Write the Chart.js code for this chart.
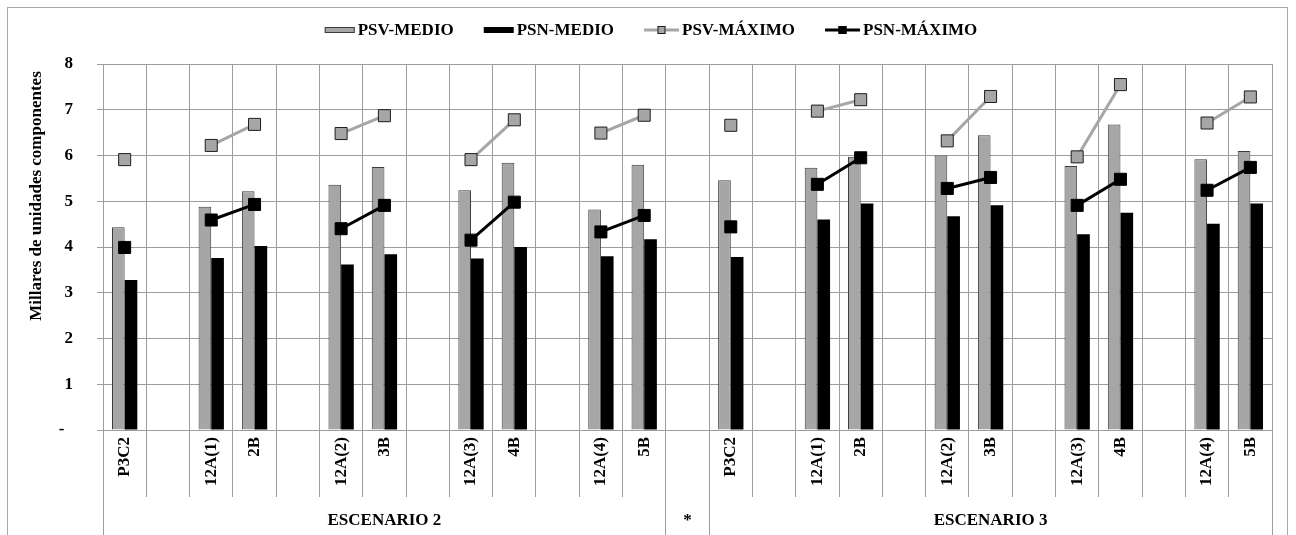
<!DOCTYPE html>
<html>
<head>
<meta charset="utf-8">
<script src="https://cdn.jsdelivr.net/npm/chart.js@4/dist/chart.umd.min.js"></script>
<style>
  html, body { margin: 0; padding: 0; background: #fff; }
  canvas { display: block; }
</style>
</head>
<body>
<canvas id="chart" width="1296" height="535"></canvas>
<script>
// Configurations, grouped by scenario (blank slots separate the pairs)
const categories = [
  'P3C2', '', '12A(1)', '2B', '', '12A(2)', '3B', '', '12A(3)', '4B', '', '12A(4)', '5B',
  '',
  'P3C2', '', '12A(1)', '2B', '', '12A(2)', '3B', '', '12A(3)', '4B', '', '12A(4)', '5B'
];

// Thousands of component units
const psvMedio = [4.43, null, 4.88, 5.22, null, 5.36, 5.75, null, 5.24, 5.84, null, 4.82, 5.80,
  null,
  5.46, null, 5.73, 5.97, null, 6.00, 6.44, null, 5.77, 6.68, null, 5.92, 6.10];
const psnMedio = [3.28, null, 3.76, 4.02, null, 3.62, 3.84, null, 3.75, 4.00, null, 3.80, 4.17,
  null,
  3.78, null, 4.60, 4.95, null, 4.67, 4.91, null, 4.28, 4.75, null, 4.51, 4.95];
const psvMaximo = [5.91, null, 6.22, 6.68, null, 6.48, 6.87, null, 5.91, 6.78, null, 6.49, 6.88,
  null,
  6.66, null, 6.97, 7.22, null, 6.32, 7.29, null, 5.97, 7.55, null, 6.71, 7.28];
const psnMaximo = [3.99, null, 4.59, 4.93, null, 4.40, 4.91, null, 4.15, 4.98, null, 4.33, 4.69,
  null,
  4.44, null, 5.37, 5.95, null, 5.28, 5.52, null, 4.91, 5.48, null, 5.24, 5.74];

// Second category level
const groupLabels = ['ESCENARIO 2', '*', 'ESCENARIO 3'];
const groupSizes = [13, 1, 13];

const yTickLabels = ['-', '1', '2', '3', '4', '5', '6', '7', '8'];
const yTitle = 'Millares de unidades componentes';

const FONT = '"Liberation Serif", "Times New Roman", serif';
const GRID = '#9c9c9c';
const GREY = '#a6a6a6';

function alignPx(p) { return Math.round(p - 0.5) + 0.5; }

// White page with the light outer frame
const framePlugin = {
  id: 'frame',
  beforeDraw(chart) {
    const ctx = chart.ctx;
    ctx.save();
    ctx.fillStyle = '#fff';
    ctx.fillRect(0, 0, chart.width, chart.height);
    ctx.strokeStyle = '#a8a8a8';
    ctx.lineWidth = 1;
    ctx.strokeRect(7.5, 7.5, chart.width - 16, chart.height + 20);
    ctx.restore();
  }
};

// Scenario row under the configuration labels
const groupRowPlugin = {
  id: 'groupRow',
  afterDraw(chart) {
    const xs = chart.scales.x;
    const ctx = chart.ctx;
    const step = xs.width / categories.length;
    const rowTop = xs.top + xs.options.grid.tickLength;
    ctx.save();
    ctx.strokeStyle = GRID;
    ctx.lineWidth = 1;
    ctx.fillStyle = '#000';
    ctx.font = 'bold 17px ' + FONT;
    ctx.textAlign = 'center';
    ctx.textBaseline = 'middle';
    const edges = [xs.getPixelForValue(0) - step / 2];
    let start = 0;
    groupSizes.forEach((n, g) => {
      const left = xs.getPixelForValue(start) - step / 2;
      const right = xs.getPixelForValue(start + n - 1) + step / 2;
      ctx.fillText(groupLabels[g], (left + right) / 2, rowTop + 24);
      edges.push(right);
      start += n;
    });
    edges.forEach(px => {
      const p = alignPx(px);
      ctx.beginPath();
      ctx.moveTo(p, rowTop - 1);
      ctx.lineTo(p, chart.height);
      ctx.stroke();
    });
    ctx.restore();
  }
};

// Vertical value-axis title
const yTitlePlugin = {
  id: 'yTitle',
  afterDraw(chart) {
    const ctx = chart.ctx;
    ctx.save();
    ctx.translate(37, 196);
    ctx.rotate(-Math.PI / 2);
    ctx.fillStyle = '#000';
    ctx.font = 'bold 17px ' + FONT;
    ctx.textAlign = 'center';
    ctx.textBaseline = 'middle';
    ctx.fillText(yTitle, 0, 0);
    ctx.restore();
  }
};

// Legend row: bar swatches and line-with-marker swatches
const legendPlugin = {
  id: 'legendRow',
  afterDraw(chart) {
    const ctx = chart.ctx;
    const sets = chart.data.datasets;
    ctx.save();
    ctx.font = 'bold 17px ' + FONT;
    const symW = sets.map(d => d.type === 'line' ? 35 : 30);
    const txtW = sets.map(d => ctx.measureText(d.label).width);
    const gapSym = 3, gapItem = 30;
    let total = 0;
    sets.forEach((d, i) => { total += symW[i] + gapSym + txtW[i]; });
    total += gapItem * (sets.length - 1);
    let x = 651 - total / 2;
    const y = 30;
    sets.forEach((d, i) => {
      if (d.type === 'line') {
        ctx.strokeStyle = d.borderColor;
        ctx.lineWidth = 3;
        ctx.beginPath();
        ctx.moveTo(x, y);
        ctx.lineTo(x + symW[i], y);
        ctx.stroke();
        const cx = x + symW[i] / 2;
        ctx.fillStyle = d.pointBackgroundColor;
        ctx.fillRect(cx - 4, y - 4, 8, 8);
        ctx.strokeStyle = d.pointBorderColor;
        ctx.lineWidth = 1;
        ctx.strokeRect(cx - 4 + 0.5, y - 4 + 0.5, 7, 7);
      } else {
        ctx.fillStyle = d.backgroundColor;
        ctx.fillRect(x, y - 3, symW[i], 6);
        if (d.borderWidth) {
          ctx.strokeStyle = d.borderColor;
          ctx.lineWidth = 1;
          ctx.strokeRect(x + 0.5, y - 3 + 0.5, symW[i] - 1, 5);
        }
      }
      x += symW[i] + gapSym;
      ctx.fillStyle = '#000';
      ctx.textAlign = 'left';
      ctx.textBaseline = 'middle';
      ctx.fillText(d.label, x, y + 1);
      x += txtW[i] + gapItem;
    });
    ctx.restore();
  }
};

new Chart(document.getElementById('chart'), {
  data: {
    labels: categories,
    datasets: [
      {
        type: 'bar', label: 'PSV-MEDIO', data: psvMedio,
        backgroundColor: GREY, borderColor: '#3c3c3c', borderWidth: 1,
        categoryPercentage: 0.585, barPercentage: 1.0, order: 2
      },
      {
        type: 'bar', label: 'PSN-MEDIO', data: psnMedio,
        backgroundColor: '#000', borderColor: '#000', borderWidth: 0,
        categoryPercentage: 0.585, barPercentage: 1.0, order: 2
      },
      {
        type: 'line', label: 'PSV-MÁXIMO', data: psvMaximo,
        borderColor: GREY, borderWidth: 3,
        pointStyle: 'rect', pointRadius: 8.5,
        pointBackgroundColor: GREY, pointBorderColor: '#1e1e1e', pointBorderWidth: 1,
        spanGaps: false, fill: false, order: 1
      },
      {
        type: 'line', label: 'PSN-MÁXIMO', data: psnMaximo,
        borderColor: '#000', borderWidth: 3,
        pointStyle: 'rect', pointRadius: 8.5,
        pointBackgroundColor: '#000', pointBorderColor: '#000', pointBorderWidth: 1,
        spanGaps: false, fill: false, order: 1
      }
    ]
  },
  options: {
    responsive: false,
    animation: false,
    devicePixelRatio: 1,
    events: [],
    layout: { padding: { top: 64, right: 24, bottom: 0, left: 0 } },
    plugins: {
      legend: { display: false },
      tooltip: { enabled: false },
      title: { display: false }
    },
    scales: {
      x: {
        type: 'category',
        offset: true,
        grid: {
          offset: true, color: GRID, tickColor: GRID, lineWidth: 1,
          drawTicks: true, tickLength: 67
        },
        border: { color: GRID, width: 1 },
        ticks: {
          autoSkip: false, minRotation: 90, maxRotation: 90,
          padding: -60, color: '#000',
          font: { family: FONT, size: 17, weight: 'bold' }
        },
        afterFit(scale) { scale.height = 105; }
      },
      y: {
        min: 0, max: 8,
        grid: { color: GRID, tickColor: GRID, lineWidth: 1, drawTicks: true, tickLength: 6 },
        border: { color: GRID, width: 1 },
        ticks: {
          stepSize: 1, padding: 24, color: '#000',
          font: { family: FONT, size: 17, weight: 'bold' },
          callback(value) {
            const t = yTickLabels[value];
            return t === '-' ? t + '  ' : t;
          }
        },
        afterFit(scale) { scale.width = 103; }
      }
    }
  },
  plugins: [framePlugin, groupRowPlugin, yTitlePlugin, legendPlugin]
});
</script>
</body>
</html>
